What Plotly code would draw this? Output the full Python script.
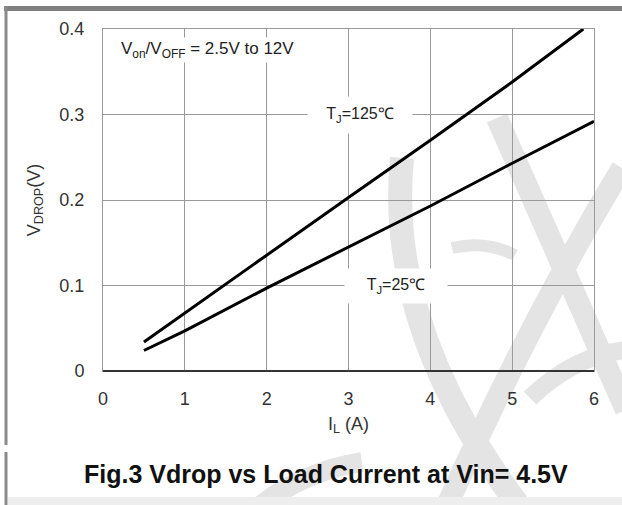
import plotly.graph_objects as go

# Data
il_125 = [0.5, 1, 2, 3, 4, 5, 5.87]
vdrop_125 = [0.034, 0.068, 0.135, 0.203, 0.27, 0.338, 0.4]
il_25 = [0.5, 1, 2, 3, 4, 5, 6]
vdrop_25 = [0.024, 0.047, 0.097, 0.145, 0.193, 0.243, 0.292]
x_ticks = [0, 1, 2, 3, 4, 5, 6]
y_ticks = [0, 0.1, 0.2, 0.3, 0.4]
y_tick_text = ["0", "0.1", "0.2", "0.3", "0.4"]

W, H = 622, 505
L, R, T, B = 103, 594, 29, 371

def px(x):
    return (x - L) / (R - L)

def py(y):
    return (B - y) / (B - T)

fig = go.Figure()
fig.add_trace(go.Scatter(x=il_125, y=vdrop_125, mode="lines",
                         line=dict(color="black", width=3), showlegend=False))
fig.add_trace(go.Scatter(x=il_25, y=vdrop_25, mode="lines",
                         line=dict(color="black", width=3), showlegend=False))

font = "Arial, Liberation Sans, sans-serif"
fig.update_layout(
    width=W, height=H,
    margin=dict(l=L, r=W - R, t=T, b=H - B, pad=0),
    paper_bgcolor="white", plot_bgcolor="white",
    font=dict(family=font, size=17, color="#333333"),
    xaxis=dict(range=[0, 6], tickvals=x_ticks, showgrid=True, gridcolor="#9a9a9a",
               gridwidth=1, zeroline=False, showline=True, linecolor="#9a9a9a",
               mirror=True, ticks="", ticklen=0, tickfont=dict(size=18),
               title=dict(text="I<sub>L</sub> (A)", font=dict(size=18), standoff=9)),
    yaxis=dict(range=[0, 0.4], tickvals=y_ticks, ticktext=y_tick_text, showgrid=True,
               gridcolor="#9a9a9a", gridwidth=1, zeroline=False, showline=True,
               linecolor="#9a9a9a", mirror=True, ticks="", tickfont=dict(size=18),
               title=dict(text="V<sub>DROP</sub>(V)", font=dict(size=18), standoff=14)),
)
fig.update_xaxes(ticklabelstandoff=11)
fig.update_yaxes(ticklabelstandoff=14)

shapes = []
# darker bottom axis
shapes.append(dict(type="line", xref="paper", yref="paper", x0=0, x1=1, y0=0, y1=0,
                   line=dict(color="#333333", width=2), layer="above"))
# watermark strokes (light grey logo behind the chart)
wm = "#e4e4e4"
for path, w in [
    (f"M {px(402)} {py(158)} Q {px(385)} {py(330)} {px(522)} {py(510)}", 24),
    (f"M {px(497)} {py(118)} Q {px(560)} {py(260)} {px(626)} {py(410)}", 22),
    (f"M {px(622)} {py(168)} Q {px(530)} {py(320)} {px(445)} {py(510)}", 22),
    (f"M {px(452)} {py(248)} Q {px(485)} {py(240)} {px(515)} {py(255)}", 12),
    (f"M {px(255)} {py(510)} Q {px(300)} {py(472)} {px(362)} {py(462)}", 20),
    (f"M {px(530)} {py(398)} Q {px(575)} {py(355)} {px(626)} {py(350)}", 18),
]:
    shapes.append(dict(type="path", xref="paper", yref="paper", path=path,
                       line=dict(color=wm, width=w), layer="below"))
# outer frame
shapes.append(dict(type="rect", xref="paper", yref="paper", x0=px(4), x1=px(624),
                   y0=py(11), y1=py(6), fillcolor="#808080", line=dict(width=0),
                   layer="above"))
shapes.append(dict(type="line", xref="paper", yref="paper", x0=px(6), x1=px(6),
                   y0=py(6), y1=py(445), line=dict(color="#8a8a8a", width=3),
                   layer="above"))
shapes.append(dict(type="line", xref="paper", yref="paper", x0=px(6), x1=px(6),
                   y0=py(452), y1=py(505), line=dict(color="#8a8a8a", width=3),
                   layer="above"))
shapes.append(dict(type="rect", xref="paper", yref="paper", x0=px(8), x1=px(622),
                   y0=py(505), y1=py(497), fillcolor="#eeeeee", line=dict(width=0)))
fig.update_layout(shapes=shapes)

fig.add_annotation(x=0.2, y=0.375, xanchor="left", yanchor="middle", showarrow=False,
                   text="V<sub>on</sub>/V<sub>OFF</sub> = 2.5V to 12V",
                   font=dict(size=17, color="#222222"), bgcolor="white")
fig.add_annotation(x=3.14, y=0.3, showarrow=False, text="T<sub>J</sub>=125℃",
                   font=dict(size=16, color="#222222"), bgcolor="white",
                   width=96, height=28, borderpad=4)
fig.add_annotation(x=3.58, y=0.1, showarrow=False, text="T<sub>J</sub>=25℃",
                   font=dict(size=16, color="#222222"), bgcolor="white",
                   width=94, height=26, borderpad=4)
fig.add_annotation(xref="paper", yref="paper", x=px(326), y=py(474), showarrow=False,
                   xanchor="center", yanchor="middle",
                   text="<b>Fig.3 Vdrop vs Load Current at Vin= 4.5V</b>",
                   font=dict(size=25, color="#111111"))

fig.write_html("out.html", config={"displayModeBar": False},
               post_script="document.body.style.margin='0';")
